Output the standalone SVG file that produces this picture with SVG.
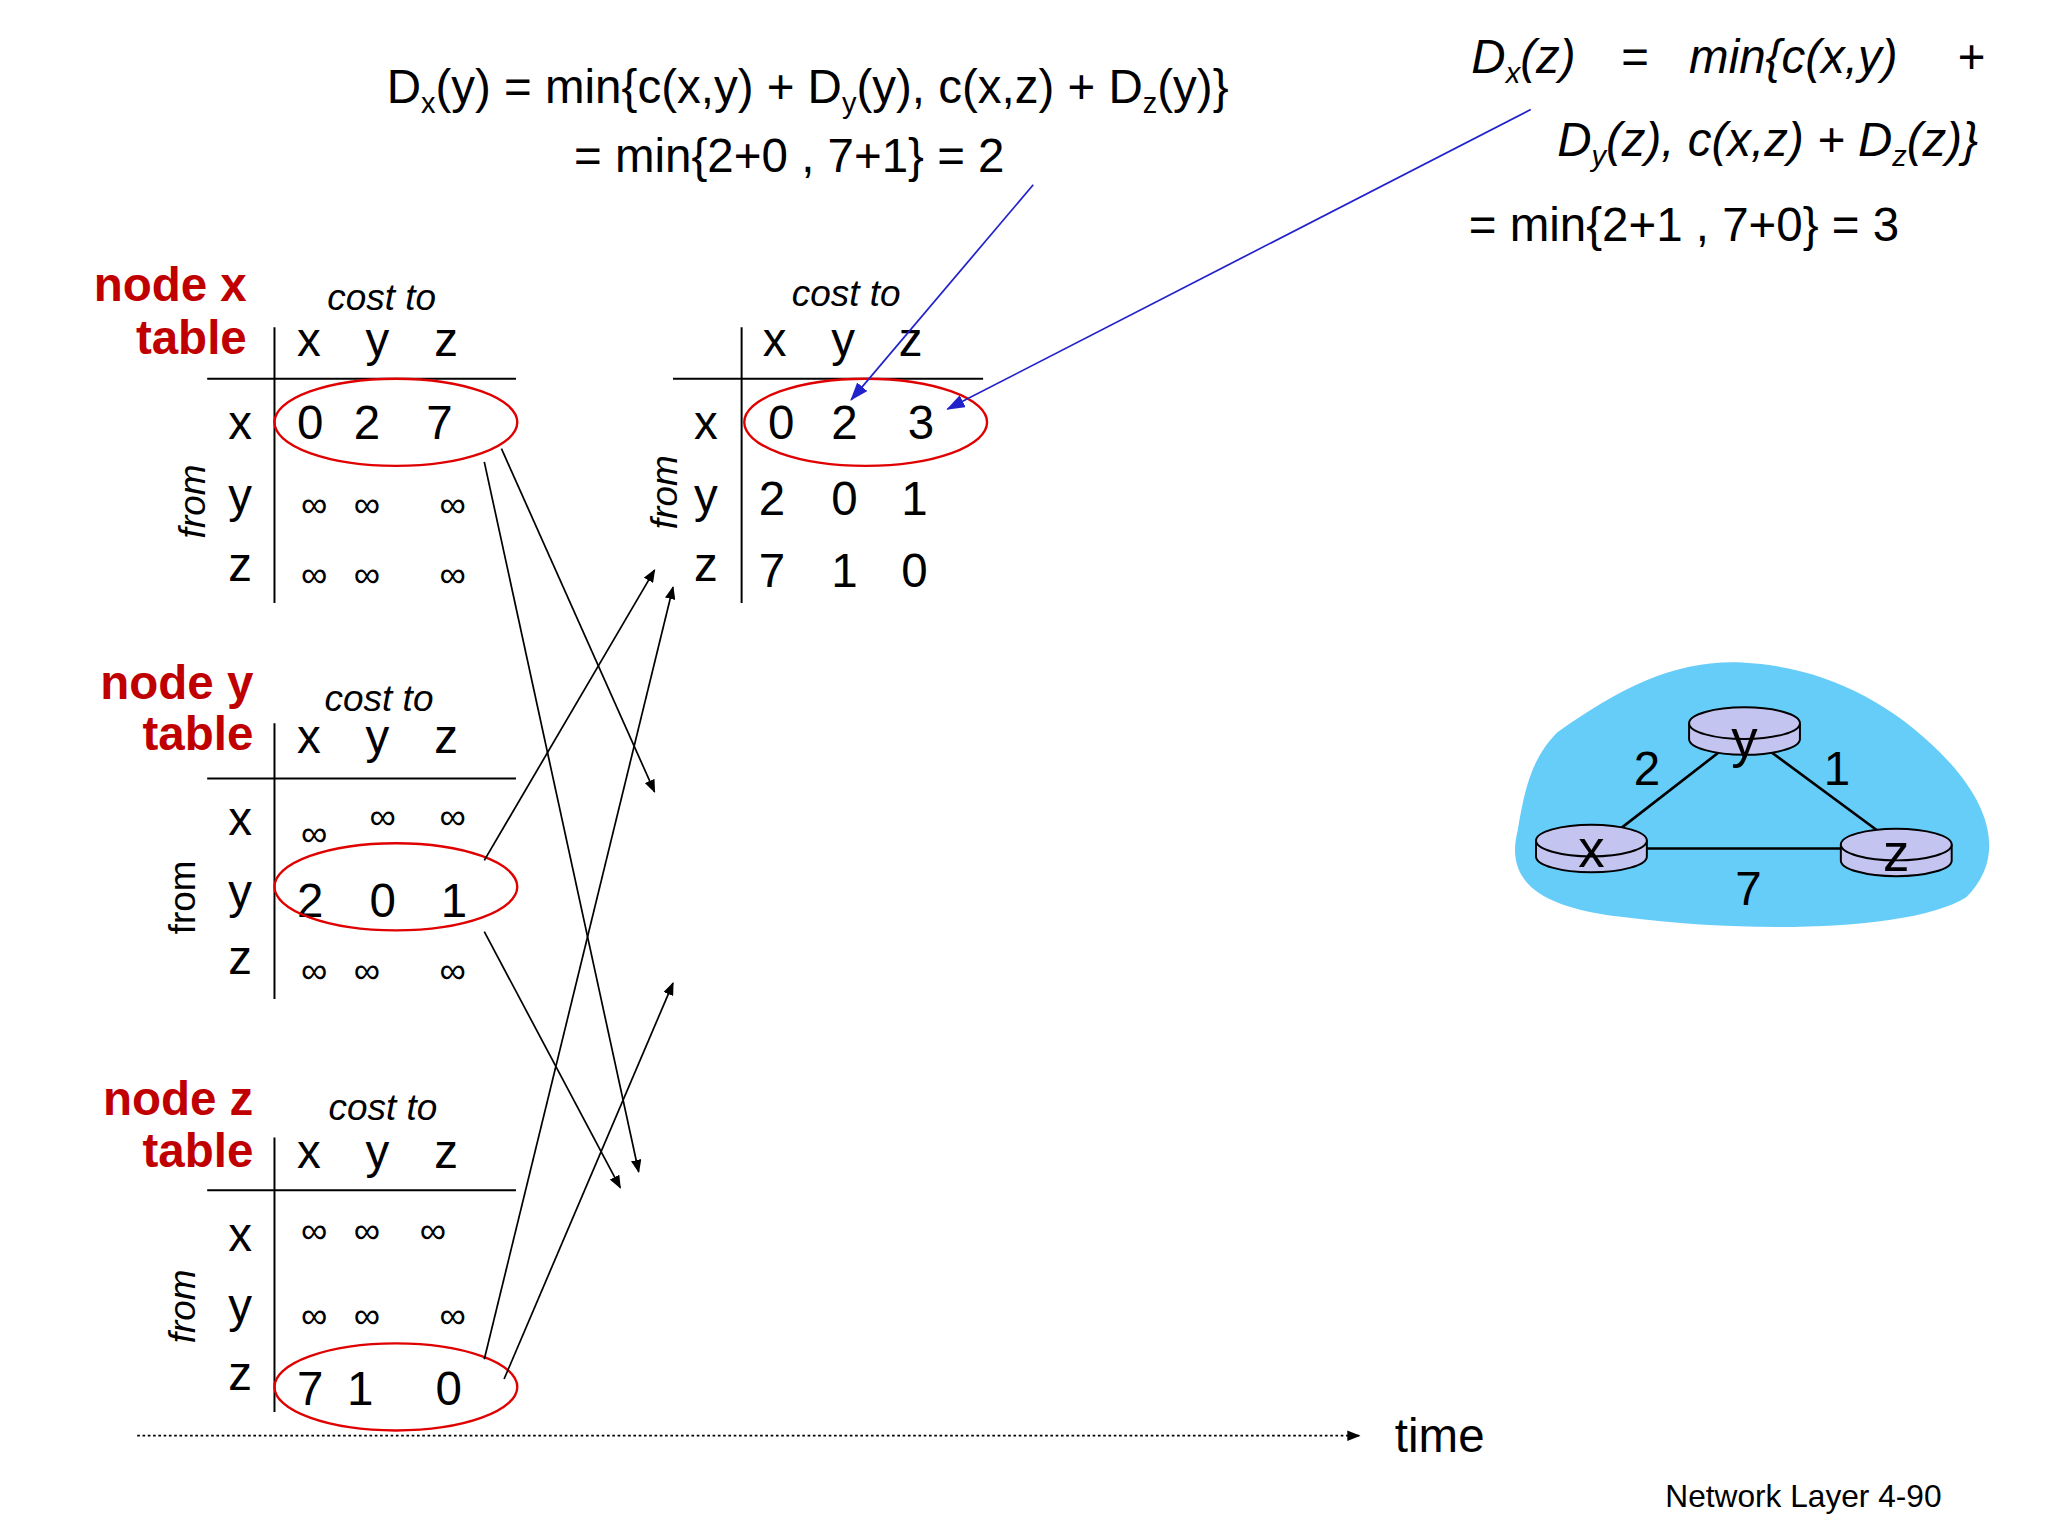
<svg xmlns="http://www.w3.org/2000/svg" width="2048" height="1536" viewBox="0 0 2048 1536">
<style>
text{font-family:"Liberation Sans",Arial,sans-serif;fill:#000}
.f{font-size:36px}
.i{font-style:italic}
.ct{font-size:28px;font-style:italic}
.n{font-size:36px;font-weight:bold;fill:#c00000}
.inf{font-size:28px}
.ln{stroke:#000;stroke-width:1.5;fill:none}
.el{stroke:#e00000;stroke-width:1.8;fill:none}
.ar{stroke:#000;stroke-width:1.3;marker-end:url(#ah)}
.ab{stroke:#2222cc;stroke-width:1.3;marker-end:url(#ahb)}
.rt{fill:#c4c4f0;stroke:#000;stroke-width:1.5}
</style>
<defs>
<marker id="ah" markerWidth="10" markerHeight="8" refX="9" refY="4" orient="auto" markerUnits="userSpaceOnUse"><path d="M0,0L10,4L0,8z" fill="#000"/></marker>
<marker id="ahb" markerWidth="14" markerHeight="10" refX="13" refY="5" orient="auto" markerUnits="userSpaceOnUse"><path d="M0,0L14,5L0,10z" fill="#2222cc"/></marker>
</defs>
<rect width="2048" height="1536" fill="#fff"/>
<g transform="scale(1.3196)">
<g id="formulas">
<text class="f" x="293" y="78">D<tspan font-size="22" dy="8">x</tspan><tspan dy="-8">(y) = min{c(x,y) + D</tspan><tspan font-size="22" dy="8">y</tspan><tspan dy="-8">(y), c(x,z) + D</tspan><tspan font-size="22" dy="8">z</tspan><tspan dy="-8">(y)}</tspan></text>
<text class="f" x="435" y="130">= min{2+0 , 7+1} = 2</text>
<text class="f i" x="1115" y="55">D<tspan font-size="22" dy="8">x</tspan><tspan dy="-8">(z)</tspan><tspan x="1228">=</tspan><tspan x="1280">min{c(x,y)</tspan><tspan x="1483">+</tspan></text>
<text class="f i" x="1180" y="118">D<tspan font-size="22" dy="8">y</tspan><tspan dy="-8">(z), c(x,z) + D</tspan><tspan font-size="22" dy="8">z</tspan><tspan dy="-8">(z)}</tspan></text>
<text class="f" x="1113" y="183">= min{2+1 , 7+0} = 3</text>
</g>
<g id="tableX">
<text class="n" x="187" y="228" text-anchor="end">node x</text>
<text class="n" x="187" y="268" text-anchor="end">table</text>
<text class="ct" x="248" y="235">cost to</text>
<text class="f" x="234" y="270" text-anchor="middle">x</text><text class="f" x="286" y="270" text-anchor="middle">y</text><text class="f" x="338" y="270" text-anchor="middle">z</text>
<path class="ln" d="M157,287H391M208,248V457"/>
<text class="f" x="182" y="333" text-anchor="middle">x</text><text class="f" x="182" y="388" text-anchor="middle">y</text><text class="f" x="182" y="440" text-anchor="middle">z</text>
<text class="ct" transform="translate(155,380) rotate(-90)" text-anchor="middle">from</text>
<text class="f" x="235" y="333" text-anchor="middle">0</text><text class="f" x="278" y="333" text-anchor="middle">2</text><text class="f" x="333" y="333" text-anchor="middle">7</text>
<text class="inf" x="238" y="392" text-anchor="middle">∞</text><text class="inf" x="278" y="392" text-anchor="middle">∞</text><text class="inf" x="343" y="392" text-anchor="middle">∞</text>
<text class="inf" x="238" y="445" text-anchor="middle">∞</text><text class="inf" x="278" y="445" text-anchor="middle">∞</text><text class="inf" x="343" y="445" text-anchor="middle">∞</text>
<ellipse class="el" cx="300" cy="320" rx="92" ry="33"/>
</g>
<g id="tableY">
<text class="n" x="192" y="530" text-anchor="end">node y</text>
<text class="n" x="192" y="568" text-anchor="end">table</text>
<text class="ct" x="246" y="539">cost to</text>
<text class="f" x="234" y="571" text-anchor="middle">x</text><text class="f" x="286" y="571" text-anchor="middle">y</text><text class="f" x="338" y="571" text-anchor="middle">z</text>
<path class="ln" d="M157,590H391M208,548V757"/>
<text class="f" x="182" y="633" text-anchor="middle">x</text><text class="f" x="182" y="688" text-anchor="middle">y</text><text class="f" x="182" y="738" text-anchor="middle">z</text>
<text style="font-size:28px" transform="translate(148,680) rotate(-90)" text-anchor="middle">from</text>
<text class="inf" x="238" y="641" text-anchor="middle">∞</text><text class="inf" x="290" y="628" text-anchor="middle">∞</text><text class="inf" x="343" y="628" text-anchor="middle">∞</text>
<text class="f" x="235" y="695" text-anchor="middle">2</text><text class="f" x="290" y="695" text-anchor="middle">0</text><text class="f" x="344" y="695" text-anchor="middle">1</text>
<text class="inf" x="238" y="745" text-anchor="middle">∞</text><text class="inf" x="278" y="745" text-anchor="middle">∞</text><text class="inf" x="343" y="745" text-anchor="middle">∞</text>
<ellipse class="el" cx="300" cy="672" rx="92" ry="33"/>
</g>
<g id="tableZ">
<text class="n" x="192" y="845" text-anchor="end">node z</text>
<text class="n" x="192" y="884" text-anchor="end">table</text>
<text class="ct" x="249" y="849">cost to</text>
<text class="f" x="234" y="885" text-anchor="middle">x</text><text class="f" x="286" y="885" text-anchor="middle">y</text><text class="f" x="338" y="885" text-anchor="middle">z</text>
<path class="ln" d="M157,902H391M208,862V1070"/>
<text class="f" x="182" y="948" text-anchor="middle">x</text><text class="f" x="182" y="1002" text-anchor="middle">y</text><text class="f" x="182" y="1053" text-anchor="middle">z</text>
<text class="ct" transform="translate(148,990) rotate(-90)" text-anchor="middle">from</text>
<text class="inf" x="238" y="942" text-anchor="middle">∞</text><text class="inf" x="278" y="942" text-anchor="middle">∞</text><text class="inf" x="328" y="942" text-anchor="middle">∞</text>
<text class="inf" x="238" y="1006" text-anchor="middle">∞</text><text class="inf" x="278" y="1006" text-anchor="middle">∞</text><text class="inf" x="343" y="1006" text-anchor="middle">∞</text>
<text class="f" x="235" y="1065" text-anchor="middle">7</text><text class="f" x="273" y="1065" text-anchor="middle">1</text><text class="f" x="340" y="1065" text-anchor="middle">0</text>
<ellipse class="el" cx="300" cy="1051" rx="92" ry="33"/>
</g>
<g id="tableNew">
<text class="ct" x="600" y="232">cost to</text>
<text class="f" x="587" y="270" text-anchor="middle">x</text><text class="f" x="639" y="270" text-anchor="middle">y</text><text class="f" x="690" y="270" text-anchor="middle">z</text>
<path class="ln" d="M510,287H745M562,248V457"/>
<text class="f" x="535" y="333" text-anchor="middle">x</text><text class="f" x="535" y="388" text-anchor="middle">y</text><text class="f" x="535" y="440" text-anchor="middle">z</text>
<text class="ct" transform="translate(513,373) rotate(-90)" text-anchor="middle">from</text>
<text class="f" x="592" y="333" text-anchor="middle">0</text><text class="f" x="640" y="333" text-anchor="middle">2</text><text class="f" x="698" y="333" text-anchor="middle">3</text>
<text class="f" x="585" y="390" text-anchor="middle">2</text><text class="f" x="640" y="390" text-anchor="middle">0</text><text class="f" x="693" y="390" text-anchor="middle">1</text>
<text class="f" x="585" y="445" text-anchor="middle">7</text><text class="f" x="640" y="445" text-anchor="middle">1</text><text class="f" x="693" y="445" text-anchor="middle">0</text>
<ellipse class="el" cx="656" cy="320" rx="92" ry="33"/>
</g>
<g id="connectors">
<line class="ar" x1="380" y1="340" x2="496" y2="600"/>
<line class="ar" x1="367" y1="350" x2="484" y2="888"/>
<line class="ar" x1="367" y1="652" x2="496" y2="432"/>
<line class="ar" x1="367" y1="706" x2="470" y2="900"/>
<line class="ar" x1="367" y1="1030" x2="510" y2="445"/>
<line class="ar" x1="382" y1="1045" x2="510" y2="745"/>
<line class="ab" x1="783" y1="140" x2="645" y2="303"/>
<line class="ab" x1="1160" y1="83" x2="718" y2="310"/>
<line x1="104" y1="1088" x2="1030" y2="1088" stroke="#000" stroke-width="1.3" stroke-dasharray="2,2" marker-end="url(#ah)"/>
</g>
<text class="f" x="1057" y="1100">time</text>
<text x="1262" y="1142" style="font-size:24px">Network Layer  4-90</text>
<g id="network">
<path d="M1180,555C1230,520 1270,500 1320,502C1380,505 1430,530 1470,570C1510,610 1520,650 1490,680C1450,705 1330,708 1230,695C1170,688 1140,670 1150,630C1155,600 1160,575 1180,555Z" fill="#66ccf8"/>
<path d="M1322,555L1206,645M1322,555L1437,640M1206,643H1437" stroke="#000" stroke-width="2" fill="none"/>
<g id="ry"><path class="rt" d="M1280,548V560A42,12 0 0 0 1364,560V548"/><ellipse class="rt" cx="1322" cy="548" rx="42" ry="12"/><text x="1322" y="574" text-anchor="middle" style="font-size:40px">y</text></g>
<g id="rx"><path class="rt" d="M1164,637V649A42,12 0 0 0 1248,649V637"/><ellipse class="rt" cx="1206" cy="637" rx="42" ry="12"/><text x="1206" y="657" text-anchor="middle" style="font-size:40px">x</text></g>
<g id="rz"><path class="rt" d="M1395,640V652A42,12 0 0 0 1479,652V640"/><ellipse class="rt" cx="1437" cy="640" rx="42" ry="12"/><text x="1437" y="660" text-anchor="middle" style="font-size:40px">z</text></g>
<text class="f" x="1248" y="595" text-anchor="middle">2</text>
<text class="f" x="1392" y="595" text-anchor="middle">1</text>
<text class="f" x="1325" y="686" text-anchor="middle">7</text>
</g>
</g>
</svg>
